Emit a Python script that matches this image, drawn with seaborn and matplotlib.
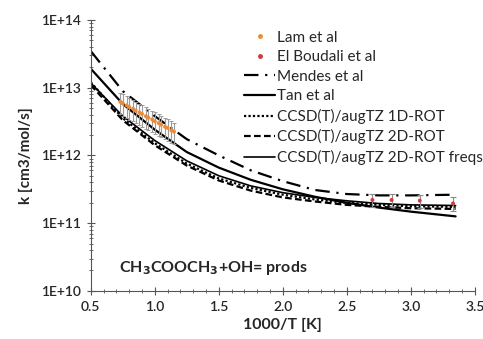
import numpy as np
import pandas as pd
import matplotlib
matplotlib.use('Agg')
import matplotlib.pyplot as plt
from matplotlib.lines import Line2D
from matplotlib.ticker import FuncFormatter, MultipleLocator, LogLocator
import seaborn as sns

# ── data ────────────────────────────────────────────────────────
inv_T = [0.5, 0.75, 1.0, 1.25, 1.5, 1.75, 2.0, 2.25, 2.5, 2.75, 3.0, 3.35]

# log10(k) for each theory curve
log_mendes = [13.54, 12.95, 12.58, 12.24, 12.00, 11.78, 11.62, 11.49, 11.43, 11.41, 11.41, 11.42]
log_tan    = [13.28, 12.76, 12.38, 12.05, 11.82, 11.64, 11.50, 11.39, 11.30, 11.23, 11.17, 11.10]
log_1drot  = [13.08, 12.55, 12.18, 11.88, 11.66, 11.52, 11.42, 11.35, 11.30, 11.27, 11.25, 11.24]
log_2drot  = [13.04, 12.52, 12.15, 11.85, 11.63, 11.48, 11.38, 11.32, 11.27, 11.24, 11.22, 11.21]
log_2dfrq  = [13.07, 12.58, 12.22, 11.92, 11.70, 11.55, 11.45, 11.38, 11.33, 11.29, 11.27, 11.26]

# Lam et al (shock tube), k in 1e12 cm3/mol/s
lam_x = [0.73, 0.75, 0.78, 0.80, 0.83, 0.85, 0.88, 0.90, 0.93, 0.95,
         0.98, 1.00, 1.03, 1.05, 1.08, 1.10, 1.13, 1.15]
lam_k = [6.2, 5.9, 5.5, 5.2, 4.9, 4.6, 4.3, 4.1, 3.8, 3.6,
         3.4, 3.2, 3.0, 2.85, 2.65, 2.55, 2.35, 2.25]
lam_err = 0.35  # relative

# El Boudali et al, k in 1e11
elb_x = [2.70, 2.85, 3.07, 3.33]
elb_k = [2.2, 2.2, 2.15, 1.95]
elb_err = [0.45, 0.45, 0.45, 0.45]

labels = ['Lam et al', 'El Boudali et al', 'Mendes et al', 'Tan et al',
          'CCSD(T)/augTZ 1D-ROT', 'CCSD(T)/augTZ 2D-ROT', 'CCSD(T)/augTZ 2D-ROT freqs']

sns.set_style('ticks')
plt.rcParams['font.family'] = ['Lato', 'DejaVu Sans']

fig = plt.figure(figsize=(4.83, 3.39), dpi=100)
ax = fig.add_axes([0.188, 0.142, 0.795, 0.799])

curves = [
    (log_mendes, (0, (6.5, 3, 1, 3)), 1.6, labels[2]),
    (log_tan, '-', 1.6, labels[3]),
    (log_1drot, (0, (1, 1)), 1.6, labels[4]),
    (log_2drot, (0, (3, 1.5)), 1.6, labels[5]),
    (log_2dfrq, '-', 1.2, labels[6]),
]
handles = {}
for logk, ls, lw, lab in curves:
    df = pd.DataFrame({'x': inv_T, 'k': 10 ** np.array(logk)})
    sns.lineplot(data=df, x='x', y='k', ax=ax, color='black', linestyle=ls,
                 linewidth=lw)
    handles[lab] = Line2D([], [], color='black', linestyle=ls, linewidth=lw)

lam_y = np.array(lam_k) * 1e12
ax.errorbar(lam_x, lam_y, yerr=lam_y * lam_err, fmt='none', ecolor='#9a9a9a',
            elinewidth=0.8, capsize=1.5, capthick=0.7, zorder=3)
sns.scatterplot(x=lam_x, y=lam_y, ax=ax, color='#EE8A33', s=8,
                edgecolor='none', zorder=4)

elb_y = np.array(elb_k) * 1e11
ax.errorbar(elb_x, elb_y, yerr=np.array(elb_err) * 1e11, fmt='none',
            ecolor='#8a8a8a', elinewidth=0.8, capsize=2.5, capthick=0.8, zorder=3)
sns.scatterplot(x=elb_x, y=elb_y, ax=ax, color='#D03A3A', s=8,
                edgecolor='none', zorder=4)

handles[labels[0]] = Line2D([], [], color='#EE8A33', marker='o', markersize=2.5,
                            linestyle='none')
handles[labels[1]] = Line2D([], [], color='#D03A3A', marker='o', markersize=2.5,
                            linestyle='none')

ax.set_yscale('log')
ax.set_xlim(0.5, 3.5)
ax.set_ylim(1e10, 1e14)
ax.xaxis.set_major_locator(MultipleLocator(0.5))
ax.xaxis.set_minor_locator(MultipleLocator(0.1))
ax.yaxis.set_major_locator(LogLocator(base=10, numticks=10))
ax.yaxis.set_minor_locator(LogLocator(base=10, subs=np.arange(2, 10), numticks=10))
ax.yaxis.set_major_formatter(FuncFormatter(lambda v, p: '1E+%d' % round(np.log10(v))))
ax.xaxis.set_major_formatter(FuncFormatter(lambda v, p: '%.1f' % v))

for s in ['top', 'right']:
    ax.spines[s].set_visible(False)
for s in ['left', 'bottom']:
    ax.spines[s].set_color('#555555')
    ax.spines[s].set_linewidth(0.8)
ax.tick_params(which='major', direction='inout', length=6, width=0.8,
               color='#555555', labelsize=10, pad=4)
ax.tick_params(which='minor', direction='inout', length=3.5, width=0.6,
               color='#555555')
for t in ax.get_xticklabels() + ax.get_yticklabels():
    t.set_fontweight('semibold')

ax.set_xlabel('1000/T [K]', fontsize=11.5, fontweight='bold', labelpad=4)
ax.set_ylabel('k [cm3/mol/s]', fontsize=11, fontweight='bold', labelpad=6)

ax.text(0.72, 2.2e10, r'CH$_\mathbf{3}$COOCH$_\mathbf{3}$+OH= prods', fontsize=11.5,
        fontweight='bold', va='center')

ax.legend([handles[l] for l in labels], labels, loc='upper left',
          bbox_to_anchor=(0.40, 0.96), frameon=False, fontsize=11,
          handlelength=2.0, handletextpad=0.15, labelspacing=0.36,
          borderaxespad=0.0, borderpad=0.0)

fig.savefig('out.png', dpi=100)
